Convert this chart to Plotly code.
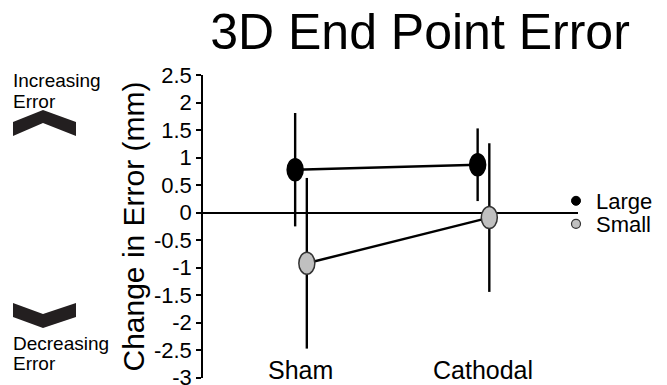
import plotly.graph_objects as go

# ---- data ----
categories = ["Sham", "Cathodal"]
large_mean = [0.78, 0.87]
large_err = [1.03, 0.66]
small_mean = [-0.92, -0.09]
small_err = [1.55, 1.35]
y_tickvals = [2.5, 2, 1.5, 1, 0.5, 0, -0.5, -1, -1.5, -2, -2.5, -3]
y_ticktext = ["2.5", "2", "1.5", "1", "0.5", "0", "-0.5", "-1", "-1.5", "-2", "-2.5", "-3"]
series_names = ["Large", "Small"]

# ---- layout constants ----
W, H = 667, 385
ML, MR, MT, MB = 203, 89, 75, 7
PW, PH = W - ML - MR, H - MT - MB
OFFSET = 0.032
FONT = "Liberation Sans, Arial, sans-serif"

def px_x(p):
    return (p - ML) / PW

def px_y(p):
    return (H - MB - p) / PH

xc = list(range(len(categories)))
x_large = [c - OFFSET for c in xc]
x_small = [c + OFFSET for c in xc]

fig = go.Figure()

err_style = dict(type="data", thickness=2.4, width=0, color="black")

fig.add_trace(go.Scatter(
    x=x_large, y=large_mean, mode="lines", line=dict(color="black", width=2.4),
    error_y=dict(array=large_err, **err_style), showlegend=False, hoverinfo="skip"))
fig.add_trace(go.Scatter(
    x=x_small, y=small_mean, mode="lines", line=dict(color="black", width=2.4),
    error_y=dict(array=small_err, **err_style), showlegend=False, hoverinfo="skip"))

# legend-only entries
fig.add_trace(go.Scatter(
    x=[None], y=[None], mode="markers", name=series_names[0],
    marker=dict(symbol="circle", size=9, color="black", line=dict(color="black", width=1)),
    legend="legend"))
fig.add_trace(go.Scatter(
    x=[None], y=[None], mode="markers", name=series_names[1],
    marker=dict(symbol="circle", size=9, color="#c0c0c0", line=dict(color="#333", width=1.2)),
    legend="legend2"))

shapes = []
# ellipse markers (pixel-sized, anchored at data values)
for xs, ys, fill, lc in [(x_large, large_mean, "black", "black"),
                         (x_small, small_mean, "#c0c0c0", "#333333")]:
    for xv, yv in zip(xs, ys):
        shapes.append(dict(type="circle", xref="x", yref="y",
                           xsizemode="pixel", ysizemode="pixel",
                           xanchor=xv, yanchor=yv,
                           x0=-8, x1=8, y0=-11, y1=11,
                           fillcolor=fill, line=dict(color=lc, width=1.5),
                           layer="above"))

# chevrons (decoration)
def path(points):
    s = "M " + " L ".join(f"{px_x(a):.5f},{px_y(b):.5f}" for a, b in points) + " Z"
    return s

up = [(13, 122), (43, 110), (76, 122), (76, 136), (43, 123), (13, 136)]
down = [(13, 303), (43, 314), (76, 303), (76, 317), (43, 328), (13, 317)]
for pts in (up, down):
    shapes.append(dict(type="path", xref="paper", yref="paper", path=path(pts),
                       fillcolor="#231f20", line=dict(width=0)))

annotations = []
side_text = [("Increasing", 80), ("Error", 101), ("Decreasing", 343), ("Error", 363)]
for t, yy in side_text:
    annotations.append(dict(text=t, xref="paper", yref="paper", x=px_x(11), y=px_y(yy),
                            xanchor="left", yanchor="middle", showarrow=False,
                            font=dict(size=19, color="black", family=FONT)))
# category labels
for c, name in zip(xc, categories):
    annotations.append(dict(text=name, xref="x", yref="paper", x=c, y=px_y(370),
                            xanchor="center", yanchor="middle", showarrow=False,
                            font=dict(size=25, color="black", family=FONT)))

fig.update_layout(
    width=W, height=H,
    margin=dict(l=ML, r=MR, t=MT, b=MB, autoexpand=False),
    paper_bgcolor="white", plot_bgcolor="white",
    font=dict(family=FONT, color="black"),
    title=dict(text="3D End Point Error", xref="paper", x=px_x(420), xanchor="center",
               yref="container", y=1 - 31 / H, yanchor="middle",
               font=dict(size=50, family=FONT, color="black")),
    xaxis=dict(range=[-0.537, 1.518], showgrid=False, zeroline=False, showline=False,
               showticklabels=False, ticks=""),
    yaxis=dict(range=[-3.004, 2.5], tickvals=y_tickvals, ticktext=y_ticktext,
               ticklabeloverflow="allow",
               showgrid=False, zeroline=True, zerolinecolor="black", zerolinewidth=1.5,
               showline=True, linecolor="black", linewidth=1.5,
               ticks="outside", ticklen=5, tickwidth=1.5, tickcolor="black",
               tickfont=dict(size=22, family=FONT, color="black"),
               title=dict(text="Change in Error (mm)", standoff=0,
                          font=dict(size=30, family=FONT, color="black"))),
    legend=dict(x=px_x(556), y=px_y(201), xanchor="left", yanchor="middle",
                bgcolor="rgba(0,0,0,0)", font=dict(size=22, family=FONT, color="black"),
                itemwidth=30),
    legend2=dict(x=px_x(556), y=px_y(224), xanchor="left", yanchor="middle",
                 bgcolor="rgba(0,0,0,0)", font=dict(size=22, family=FONT, color="black"),
                 itemwidth=30),
    shapes=shapes, annotations=annotations, showlegend=True,
)

fig.write_html("out.html", config={"displayModeBar": False},
               post_script="document.body.style.margin='0px';")
